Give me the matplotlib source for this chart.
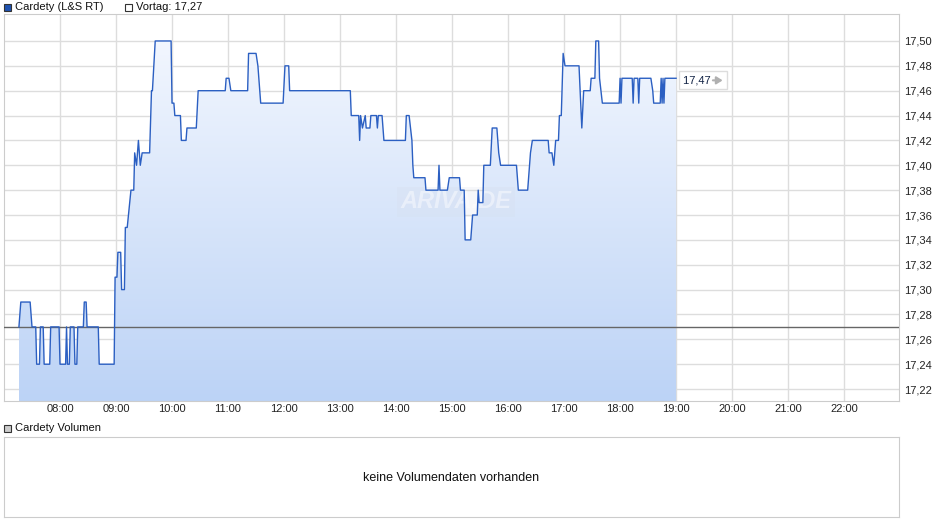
import matplotlib
matplotlib.use("Agg")
import matplotlib.pyplot as plt
import numpy as np
from matplotlib.colors import LinearSegmentedColormap
from matplotlib.patches import Rectangle, Polygon
from matplotlib.transforms import offset_copy

plt.rcParams["font.family"] = ["Liberation Sans", "DejaVu Sans"]

# intraday quotes (L&S RT)
times = ["07:16", "07:18", "07:28", "07:30", "07:34", "07:35", "07:38", "07:39", "07:42", "07:43",
         "07:49", "07:50", "07:59", "08:00", "08:06", "08:07", "08:08", "08:10", "08:11", "08:15",
         "08:16", "08:18", "08:19", "08:25", "08:26", "08:28", "08:29", "08:41", "08:42", "08:58",
         "08:59", "09:01", "09:02", "09:05", "09:06", "09:09", "09:10", "09:12", "09:16", "09:19",
         "09:20", "09:22", "09:24", "09:25", "09:26", "09:28", "09:36", "09:38", "09:39", "09:42",
         "09:59", "10:00", "10:02", "10:03", "10:09", "10:10", "10:15", "10:16", "10:26", "10:28",
         "10:57", "10:58", "11:01", "11:03", "11:21", "11:22", "11:30", "11:32", "11:35", "11:59",
         "12:01", "12:05", "12:06", "13:11", "13:12", "13:20", "13:21", "13:22", "13:24", "13:27",
         "13:28", "13:32", "13:33", "13:39", "13:40", "13:41", "13:45", "13:47", "14:10", "14:11",
         "14:14", "14:17", "14:18", "14:19", "14:31", "14:32", "14:45", "14:46", "14:47", "14:55",
         "14:57", "15:08", "15:09", "15:13", "15:14", "15:20", "15:22", "15:27", "15:28", "15:29",
         "15:33", "15:34", "15:41", "15:43", "15:48", "15:50", "15:52", "16:09", "16:11", "16:21",
         "16:24", "16:26", "16:43", "16:44", "16:47", "16:49", "16:51", "16:54", "16:55", "16:57",
         "16:59", "17:01", "17:16", "17:19", "17:21", "17:28", "17:29", "17:33", "17:34", "17:37",
         "17:38", "17:41", "17:59", "18:00", "18:01", "18:02", "18:13", "18:14", "18:15", "18:19",
         "18:20", "18:21", "18:33", "18:35", "18:36", "18:43", "18:44", "18:45", "18:46", "18:47",
         "18:48", "19:00"]
prices = [17.27, 17.29, 17.29, 17.27, 17.27, 17.24, 17.24, 17.27, 17.27, 17.24,
          17.24, 17.27, 17.27, 17.24, 17.24, 17.27, 17.24, 17.24, 17.27, 17.27,
          17.24, 17.24, 17.27, 17.27, 17.29, 17.29, 17.27, 17.27, 17.24, 17.24,
          17.31, 17.31, 17.33, 17.33, 17.30, 17.30, 17.35, 17.35, 17.38, 17.38,
          17.41, 17.40, 17.42, 17.41, 17.40, 17.41, 17.41, 17.46, 17.46, 17.50,
          17.50, 17.45, 17.45, 17.44, 17.44, 17.42, 17.42, 17.43, 17.43, 17.46,
          17.46, 17.47, 17.47, 17.46, 17.46, 17.49, 17.49, 17.48, 17.45, 17.45,
          17.48, 17.48, 17.46, 17.46, 17.44, 17.44, 17.42, 17.44, 17.43, 17.44,
          17.43, 17.43, 17.44, 17.44, 17.43, 17.44, 17.44, 17.42, 17.42, 17.44,
          17.44, 17.42, 17.40, 17.39, 17.39, 17.38, 17.38, 17.40, 17.38, 17.38,
          17.39, 17.39, 17.38, 17.38, 17.34, 17.34, 17.36, 17.36, 17.38, 17.37,
          17.37, 17.40, 17.40, 17.43, 17.43, 17.41, 17.40, 17.40, 17.38, 17.38,
          17.41, 17.42, 17.42, 17.41, 17.41, 17.40, 17.42, 17.42, 17.44, 17.44,
          17.49, 17.48, 17.48, 17.43, 17.46, 17.46, 17.47, 17.47, 17.50, 17.50,
          17.47, 17.45, 17.45, 17.47, 17.45, 17.47, 17.47, 17.45, 17.47, 17.47,
          17.45, 17.47, 17.47, 17.46, 17.45, 17.45, 17.47, 17.45, 17.47, 17.45,
          17.47, 17.47]
prev_close = 17.27
price_ticks = [17.22, 17.24, 17.26, 17.28, 17.30, 17.32, 17.34, 17.36, 17.38,
               17.40, 17.42, 17.44, 17.46, 17.48, 17.50]
hour_ticks = list(range(8, 23))

assert len(times) == len(prices)


def to_hours(s):
    hh, mm = s.split(":")
    return int(hh) + int(mm) / 60


def de(v):
    return f"{v:.2f}".replace(".", ",")


x = np.array([to_hours(t) for t in times])
y = np.array(prices)

W, H = 940, 526
fig = plt.figure(figsize=(W / 100, H / 100), dpi=100)
grid_c = "#dddddd"
frame_c = "#cccccc"

# ---- price panel
ax = fig.add_axes([4 / W, 1 - 401 / H, 895 / W, 387 / H])
ylo, yhi = 17.2104, 17.5217
ax.set_xlim(7.0, 22.98)
ax.set_ylim(ylo, yhi)

for h in hour_ticks:
    ax.axvline(h, color=grid_c, lw=1, zorder=0)
for p in price_ticks:
    ax.axhline(p, color=grid_c, lw=1, zorder=0)

# gradient area under the line
cmap = LinearSegmentedColormap.from_list("area", ["#bcd3f6", "#f6f9ff"])
grad = np.linspace(0, 1, 256).reshape(-1, 1)
im = ax.imshow(grad, cmap=cmap, origin="lower", aspect="auto",
               extent=[x[0], x[-1], ylo, yhi], zorder=1)
poly = Polygon(np.column_stack([np.r_[x[0], x, x[-1]], np.r_[ylo, y, ylo]]),
               closed=True, transform=ax.transData, facecolor="none", edgecolor="none")
ax.add_patch(poly)
im.set_clip_path(poly)

ax.axhline(prev_close, color="#666666", lw=1, zorder=3)
ax.plot(x, y, color="#2b5fc2", lw=1.0, zorder=4)

# watermark
ax.text(0.505, 0.515, "ARIVA.DE", transform=ax.transAxes, ha="center", va="center",
        fontsize=17, fontstyle="italic", fontweight="bold", color="white", alpha=0.45, zorder=2,
        bbox=dict(boxstyle="square,pad=0.15", fc="#d5dbe6", ec="none", alpha=0.2))

# last price box with a small grey arrow inside
ax.annotate(de(y[-1]) + "    ", xy=(x[-1], y[-1]), xytext=(5, -1.5), textcoords="offset points",
            ha="left", va="center", fontsize=8, color="#112244", zorder=5,
            bbox=dict(boxstyle="square,pad=0.35", fc="white", ec="#dddddd", lw=1))
arrow_tail = offset_copy(ax.transData, fig=fig, x=26.5, y=-1.5, units="points")
arrow_head = offset_copy(ax.transData, fig=fig, x=33.5, y=-1.5, units="points")
ax.annotate("", xy=(x[-1], y[-1]), xycoords=arrow_head,
            xytext=(x[-1], y[-1]), textcoords=arrow_tail,
            zorder=6, annotation_clip=False,
            arrowprops=dict(arrowstyle="-|>,head_length=0.35,head_width=0.22", color="#b0b0b0",
                            lw=1.5, shrinkA=0, shrinkB=0))

ax.set_xticks(hour_ticks)
ax.set_xticklabels([f"{h:02d}:00" for h in hour_ticks], fontsize=8, color="#222222")
ax.set_yticks(price_ticks)
ax.set_yticklabels([de(p) for p in price_ticks], fontsize=8, color="#222222")
ax.yaxis.tick_right()
ax.tick_params(axis="x", length=0, pad=2.5)
ax.tick_params(axis="y", length=0, pad=4)
for s in ax.spines.values():
    s.set_color(frame_c)

# ---- volume panel
axv = fig.add_axes([4 / W, 1 - 517 / H, 895 / W, 80 / H])
axv.set_xticks([])
axv.set_yticks([])
for s in axv.spines.values():
    s.set_color(frame_c)
axv.text(0.5, 0.49, "keine Volumendaten vorhanden", transform=axv.transAxes,
         ha="center", va="center", fontsize=9, color="#111111")

# ---- legend-like headers


def header(px, py, label, fc):
    fig.add_artist(Rectangle((px / W, 1 - (py + 4) / H), 7 / W, 7 / H, transform=fig.transFigure,
                             facecolor=fc, edgecolor="#333333", lw=0.8))
    fig.text((px + 11) / W, 1 - py / H, label, ha="left", va="center", fontsize=8, color="#111111")


header(4, 7, "Cardety (L&S RT)", "#1f52b0")
header(125, 7, "Vortag: 17,27", "white")
header(4, 428, "Cardety Volumen", "#cccccc")

fig.savefig("out.png", dpi=100)
